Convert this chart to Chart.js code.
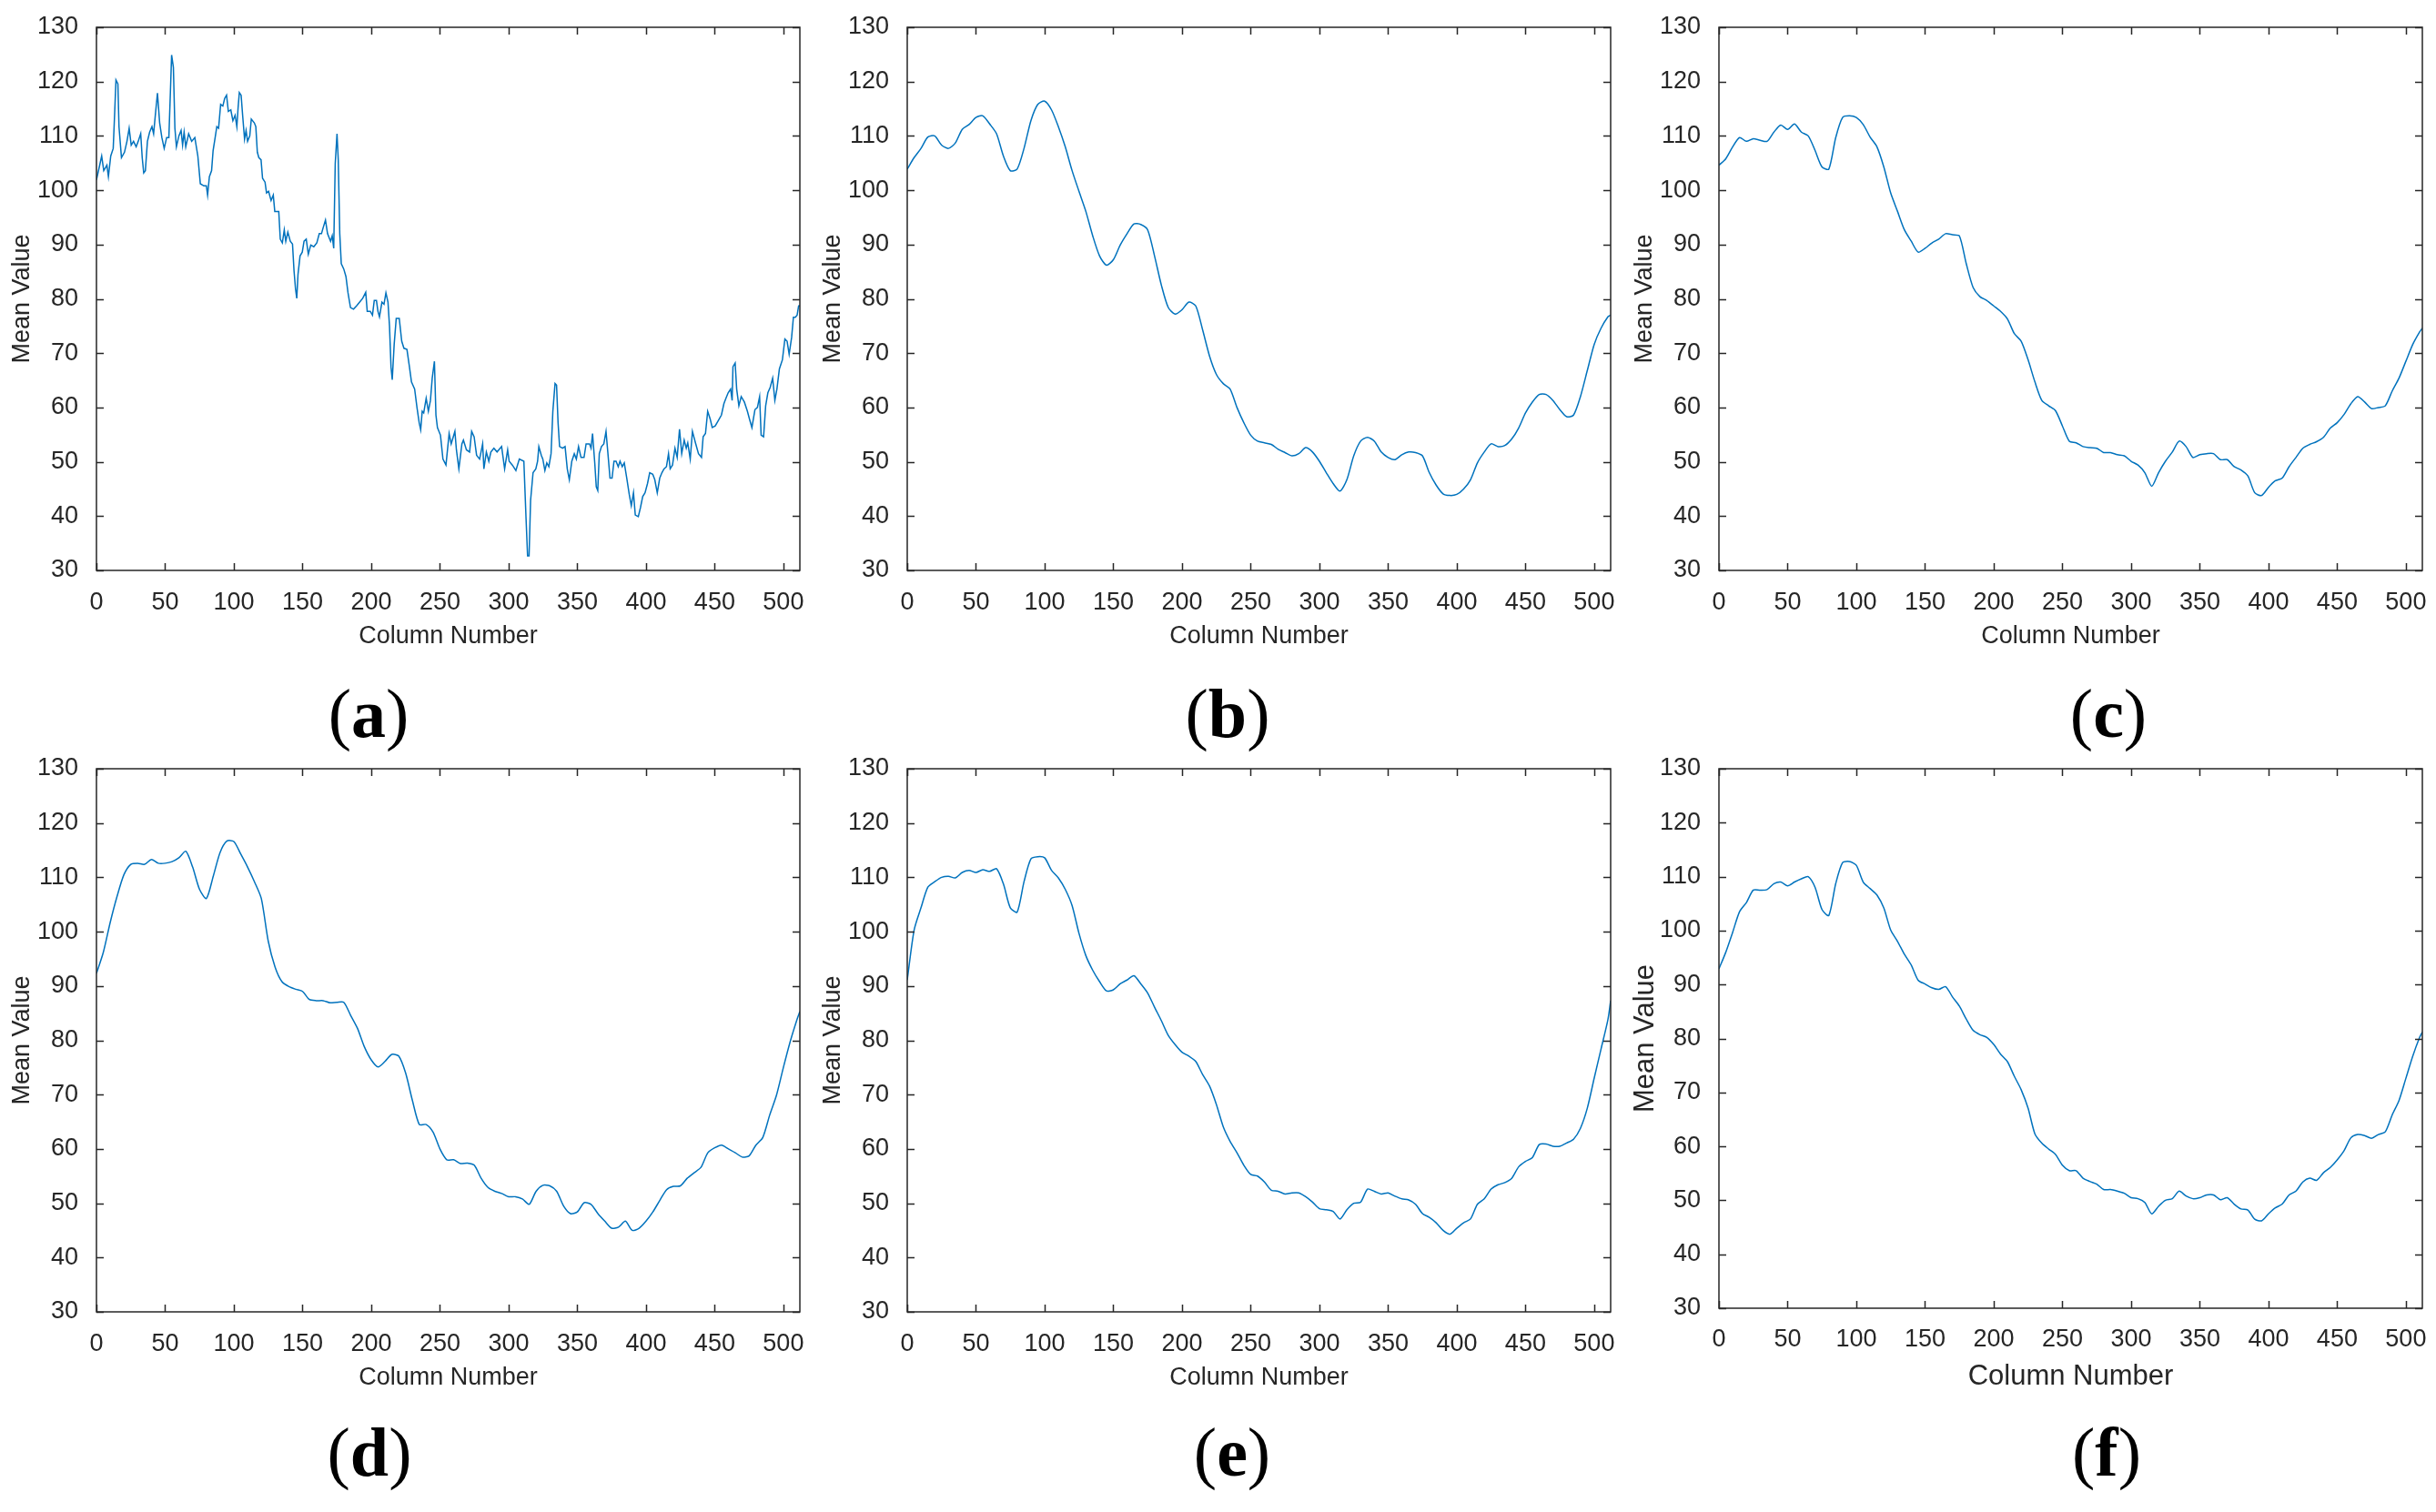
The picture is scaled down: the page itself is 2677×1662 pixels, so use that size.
<!DOCTYPE html>
<html>
<head>
<meta charset="utf-8">
<script src="https://cdn.jsdelivr.net/npm/chart.js@4.4.1/dist/chart.umd.min.js"></script>
<style>
    body { margin: 0; background: #fff; }
    #page { position: relative; width: 2677px; height: 1662px; overflow: hidden; }
    .panel { position: absolute; }
    .tag {
        position: absolute;
        font-family: "Liberation Serif", "DejaVu Serif", serif;
        font-size: 76px;
        line-height: 1;
        color: #000;
        transform: translate(-50%, -50%);
        white-space: nowrap;
    }
    .tag b { font-weight: bold; }
</style>
</head>
<body>
<div id="page">
    <div class="panel" id="pa"><canvas id="chartA"></canvas></div>
    <div class="panel" id="pb"><canvas id="chartB"></canvas></div>
    <div class="panel" id="pc"><canvas id="chartC"></canvas></div>
    <div class="panel" id="pd"><canvas id="chartD"></canvas></div>
    <div class="panel" id="pe"><canvas id="chartE"></canvas></div>
    <div class="panel" id="pf"><canvas id="chartF"></canvas></div>

    <div class="tag" style="left:405px; top:784px;">(<b>a</b>)</div>
    <div class="tag" style="left:1349px; top:784px;">(<b>b</b>)</div>
    <div class="tag" style="left:2317px; top:784px;">(<b>c</b>)</div>
    <div class="tag" style="left:406px; top:1596px;">(<b>d</b>)</div>
    <div class="tag" style="left:1354px; top:1596px;">(<b>e</b>)</div>
    <div class="tag" style="left:2315px; top:1596px;">(<b>f</b>)</div>
</div>

<script>
// ---- data ----

// (a) raw column means, sampled where the trace changes
var colA = [
    0,3.8,5.3,7.6,8.7,10.4,12.2,13.3,14.2,15.6,
    16.4,18.2,20.4,22.2,23.8,25.3,27,28.9,30.4,32.2,
    33.3,34.4,35.6,37.1,38.7,40.4,41.6,42.7,44.4,46,
    47.6,49.3,51.1,52.7,53.8,54.7,56,57.1,58.2,60,
    61.6,62.7,63.8,65,67.1,69.3,71.6,73.8,75.6,78.2,
    80,80.9,82.2,83.8,84.9,86.4,87.6,88.9,90.4,92,
    93.3,94.7,96,97.8,99.3,100.9,102.2,103.1,104,105.3,
    106.4,107.8,108.9,110,111.6,112.7,114.9,116,117.1,118.2,
    119.8,120.9,122.7,123.8,125.3,127.1,128.7,129.8,132.7,133.8,
    135.3,136.7,137.8,139.3,141.1,142.7,143.8,144.9,145.8,146.7,
    148.2,149.8,151.1,152.7,154.2,156,158.2,160.4,162.2,163.8,
    164.9,166.7,168.2,170.4,171.6,172.7,173.8,175.1,176,177.1,
    178.2,180,181.6,183.1,184.9,187.1,189.3,191.6,193.8,196,
    197.1,199.3,200.9,202.2,203.8,204.9,206,207.8,209.3,210.7,
    212.2,213.3,214.4,215.3,216.7,218.2,220.4,222.2,223.8,226,
    227.8,229.3,231.6,233.3,234.9,236,237.1,238.2,240,241.6,
    243.1,244.4,246,247.1,248.2,250.4,252.2,254.4,256.7,258.2,
    260.9,262,263.8,266,267.1,269.3,271.6,273.1,274.9,276.7,
    278.9,281.1,282,283.8,285.6,287.1,289.3,291.6,294.9,297.1,
    299.3,300.4,302.7,305.3,307.8,311.1,312.7,313.8,314.9,316,
    317.8,319.8,321.1,322,323.8,324.9,326.4,327.8,329.3,330.9,
    332.2,333.8,334.9,336,337.1,339.3,341.1,342.7,344.2,346,
    347.8,349.3,350.9,352.7,354.9,356.4,358.9,360,361.1,362.7,
    363.8,364.9,366,367.6,369.3,370.9,372.2,373.8,375.3,376.7,
    378.2,379.8,381.1,382.7,384.2,386,387.8,389.3,390.9,392.2,
    394.4,396,397.6,399.3,401.1,402.7,404.9,406.4,408.2,410,
    411.6,413.1,414.9,416.4,417.6,419.3,421.1,422.7,424.4,426,
    427.8,429.3,430.4,432.2,433.8,436,438.2,440.4,441.6,443.3,
    444.9,446.7,448.2,450.4,452.7,454.9,456.7,458.2,459.8,461.6,
    462.7,463.3,464.9,466,467.6,469.3,471.6,473.8,475.3,477.1,
    479.3,481.1,482.7,483.8,485.6,487.1,488.7,490.4,492.2,493.8,
    495.3,497.1,499.3,501.1,502.7,504.2,506,507.3,508.7,510,
    511.1,512
];
var meanA = [
    101.9,106.3,103.6,104.6,102.5,106.3,107.7,114.5,120.3,119.6,
    111.7,106,107,109,111.4,108.3,109,108,109,110.4,
    106,103.2,103.6,109,110.7,111.7,110.4,113.4,117.9,112.4,
    109.7,107.7,109.7,109.7,117.9,124.9,122.6,111.4,108,110,
    111,108.3,110.7,108,110.4,109,109.7,106.3,101.2,100.8,
    100.8,99.1,102.5,103.6,107.3,109.7,111.7,111.4,115.8,115.5,
    116.9,117.5,114.5,114.8,112.8,113.8,111.7,115.2,118,117.5,
    113.8,109.4,111,109,110,113.1,112.4,111.7,107,106,
    105.6,102.2,101.5,99.5,99.8,98.1,99.1,96.1,96.1,91,
    90.3,92.7,90.6,92.3,90.6,90.1,85.2,81.8,80.1,84.5,
    87.9,88.6,90.6,91,88.2,89.9,89.6,90.3,92,92,
    93,94.5,92,90.6,91.6,89.3,104.9,110.4,105.6,92,
    86.5,85.5,84.1,81.1,78.4,78.1,78.7,79.4,80.1,81.2,
    77.7,77.7,77,79.7,79.7,77.7,76.7,79.4,79,81.1,
    79.4,75,67.5,65.1,71.6,76.4,76.4,72.2,70.9,70.7,
    67.5,64.7,63.4,60,57.2,55.9,59.3,59,61.7,59.3,
    61.3,65.4,68.5,58.6,56.3,54.9,50.5,49.4,55.2,53.3,
    55.6,52.2,48.7,53.3,54,52.2,51.8,55.6,54.6,51.2,
    50.5,53.3,48.7,51.8,50.1,51.8,52.5,51.8,52.8,48.7,
    52.2,50.1,49.4,48.4,50.5,50.1,39.5,32.7,32.7,42.9,
    48,48.7,50.1,52.8,51.2,50.5,48.4,49.8,49.1,51.5,
    59.3,64.4,64.1,57.2,52.8,52.5,52.8,48.7,46.7,50.1,
    51.5,50.5,52.8,50.8,50.8,53.3,53.3,52.5,55.2,49.8,
    45.4,44.7,51.5,52.8,53.3,55.6,51.8,47,47,50.1,
    50.1,49.1,50.1,49.1,49.8,47,44,41.9,44.3,40.2,
    39.9,41.6,43.6,44.3,46,48,47.7,46.7,44.3,47,
    48,48.7,49.1,51.5,48.7,49.4,52.5,50.8,56,51.5,
    54,52.5,53.5,50.5,55.6,53.5,51.5,50.8,54.6,55.2,
    59.3,57.9,56.3,56.6,57.6,58.6,60.7,61.7,62.7,63.4,
    61.3,67.5,68.2,63.4,60.3,62,61,59.3,57.9,56.3,
    59.6,60,62,54.9,54.6,60.3,62.7,63.7,65.4,61.3,
    63.4,67.1,68.8,72.6,72.2,69.8,72.9,76.6,76.6,77,
    78.7,78.7
];

// (b)-(f) filtered results, read every 5 columns
var cols = [
    0,5,10,15,20,25,30,35,40,45,
    50,55,60,65,70,75,80,85,90,95,
    100,105,110,115,120,125,130,135,140,145,
    150,155,160,165,170,175,180,185,190,195,
    200,205,210,215,220,225,230,235,240,245,
    250,255,260,265,270,275,280,285,290,295,
    300,305,310,315,320,325,330,335,340,345,
    350,355,360,365,370,375,380,385,390,395,
    400,405,410,415,420,425,430,435,440,445,
    450,455,460,465,470,475,480,485,490,495,
    500,505,510,512
];
var meanB = [
    103.9,106,107.7,109.8,110,108.3,107.7,108.7,111.2,112.1,
    113.4,113.7,112.2,110.4,106.3,103.6,103.9,107.7,112.8,115.8,
    116.4,114.8,111.7,108,103.6,99.8,96.1,91.6,87.9,86.2,
    87.2,89.9,92,93.8,93.7,92.7,87.9,82.5,78.4,77.2,
    78,79.4,78.7,74.3,69.5,66.1,64.4,63.4,60,57.2,
    54.9,53.8,53.5,53.2,52.3,51.7,51.1,51.5,52.6,51.8,
    50.1,48,46,44.6,46.7,51.1,53.8,54.5,53.8,51.8,
    50.8,50.4,51.3,51.8,51.7,51.1,48,45.7,44.1,43.8,
    44,45,46.7,49.8,51.8,53.3,52.8,53,54.2,56.2,
    59,61,62.4,62.4,61.3,59.6,58.3,58.6,62,66.8,
    71.6,74.6,76.7,77
];
var meanC = [
    104.6,105.8,108,109.7,109,109.5,109.2,109,110.7,112,
    111.2,112.2,110.7,110,107.3,104.3,103.9,109.7,113.4,113.7,
    113.4,112.1,109.8,108,104.3,99.5,96.1,92.7,90.6,88.6,
    89.3,90.3,91,92,91.8,91.6,86.5,82.1,80.4,79.7,
    78.7,77.7,76.3,73.6,72.2,68.8,64.7,61.3,60.3,59.4,
    56.6,53.8,53.5,52.8,52.6,52.5,51.7,51.7,51.3,51.1,
    50.1,49.4,48,45.5,48,50.1,51.8,53.8,52.8,50.8,
    51.3,51.5,51.5,50.4,50.4,49.1,48.5,47.4,44.3,43.8,
    45.3,46.5,47,49.1,50.8,52.5,53.2,53.7,54.5,56.2,
    57.2,58.7,60.7,62,61,59.8,60,60.3,63,65.4,
    68.5,71.6,73.9,74.6
];
var meanD = [
    92.3,96.2,101.7,106.5,110.5,112.4,112.6,112.4,113.3,112.6,
    112.6,112.9,113.6,114.8,111.9,107.8,106.1,110.2,114.6,116.7,
    116.6,114.3,111.9,109.2,106.1,98.3,93.5,90.8,89.9,89.4,
    89,87.5,87.3,87.3,86.9,87,87,84.6,82.2,78.8,
    76.4,75.1,76.1,77.4,77.1,74,68.9,64.5,64.5,63.1,
    60,58,58,57.3,57.4,57,54.6,52.9,52.2,51.8,
    51.2,51.2,50.8,49.8,52.2,53.3,53.2,52.2,49.5,48.1,
    48.4,50.1,49.8,48.1,46.7,45.4,45.6,46.7,45,45.4,
    46.7,48.4,50.5,52.5,53.1,53.2,54.6,55.6,56.6,59.3,
    60.2,60.7,60,59.3,58.5,58.7,60.7,62.1,66.2,69.9,
    75,79.8,83.9,85.3
];
var meanE = [
    91.1,100.3,104.4,108.2,109.2,110,110.2,109.9,110.9,111.3,
    110.9,111.4,111.1,111.6,108.8,104.4,103.6,109.2,113.4,113.8,
    113.6,111.3,109.9,107.8,104.8,99.7,95.6,92.9,90.8,89.1,
    89.3,90.4,91.1,91.9,90.4,88.7,86.1,83.6,80.9,79.2,
    77.8,77.1,76.1,73.7,71.6,68.2,64.1,61.4,59.3,57,
    55.3,55,53.9,52.4,52.2,51.7,51.9,51.9,51.2,50.2,
    49,48.8,48.5,47.1,48.8,50,50.2,52.6,52.2,51.7,
    51.9,51.3,50.8,50.6,49.8,48.1,47.4,46.4,45,44.3,
    45.4,46.4,47.1,49.8,50.8,52.6,53.4,53.8,54.6,56.7,
    57.7,58.4,60.8,60.9,60.5,60.5,61.1,61.8,63.8,67.5,
    73,78.4,83.8,87.3
];
var meanF = [
    92.9,96,99.7,103.5,105.2,107.5,107.5,107.6,108.7,109,
    108.3,109,109.6,110,108,103.9,102.8,108.7,112.6,112.8,
    112.1,109,107.8,106.6,104.2,100.1,98,95.6,93.6,90.8,
    90.1,89.4,89.1,89.6,87.7,86,83.6,81.5,80.7,80.2,
    78.9,77.1,75.7,73,70.5,67.1,62.3,60.6,59.5,58.5,
    56.5,55.5,55.5,54.1,53.5,53,52,52,51.7,51.3,
    50.5,50.3,49.6,47.5,48.9,50,50.3,51.7,50.8,50.3,
    50.5,51,51,50.1,50.5,49.3,48.4,48.2,46.5,46.2,
    47.5,48.6,49.3,51,51.7,53.4,54.1,53.7,55.1,56.1,
    57.5,59.2,61.6,62.2,62,61.5,62.2,62.7,65.8,68.5,
    72.6,76.7,80.2,81.2
];

var xTitle = 'Column Number';
var yTitle = 'Mean Value';

// ---- drawing ----
var INK = '#262626';
var LINE = '#0072BD';
var SANS = '"Liberation Sans", Arial, Helvetica, sans-serif';

// MATLAB style box with inward ticks on all four sides
var boxPlugin = {
    id: 'matlabBox',
    afterDraw: function (chart) {
        var ctx = chart.ctx;
        var a = chart.chartArea;
        var xs = chart.scales.x;
        var ys = chart.scales.y;
        var tl = 8;
        ctx.save();
        ctx.strokeStyle = INK;
        ctx.lineWidth = 1.5;
        ctx.strokeRect(a.left, a.top, a.right - a.left, a.bottom - a.top);
        ctx.beginPath();
        xs.ticks.forEach(function (t) {
            var px = Math.round(xs.getPixelForValue(t.value)) + 0.5;
            ctx.moveTo(px, a.bottom); ctx.lineTo(px, a.bottom - tl);
            ctx.moveTo(px, a.top); ctx.lineTo(px, a.top + tl);
        });
        ys.ticks.forEach(function (t) {
            var py = Math.round(ys.getPixelForValue(t.value)) + 0.5;
            ctx.moveTo(a.left, py); ctx.lineTo(a.left + tl, py);
            ctx.moveTo(a.right, py); ctx.lineTo(a.right - tl, py);
        });
        ctx.stroke();
        ctx.restore();
    }
};

function makePanel(holderId, canvasId, xs, ys, p) {
    var holder = document.getElementById(holderId);
    var w = 106 + 773 + 12;
    var h = 20 + p.plotH + p.xAxisH;
    holder.style.left = (p.left - 106) + 'px';
    holder.style.top = (p.top - 20) + 'px';

    var cv = document.getElementById(canvasId);
    cv.width = w;
    cv.height = h;
    cv.style.width = w + 'px';
    cv.style.height = h + 'px';

    var points = xs.map(function (c, i) { return { x: c, y: ys[i] }; });

    return new Chart(cv, {
        type: 'line',
        data: {
            datasets: [{
                data: points,
                borderColor: LINE,
                borderWidth: 1.5,
                pointRadius: 0,
                fill: false,
                tension: p.tension
            }]
        },
        plugins: [boxPlugin],
        options: {
            responsive: false,
            animation: false,
            devicePixelRatio: 1,
            layout: { padding: { top: 20, right: 12, bottom: 0, left: 0 } },
            plugins: {
                legend: { display: false },
                tooltip: { enabled: false }
            },
            scales: {
                x: {
                    type: 'linear',
                    min: 0,
                    max: 512,
                    grid: { display: false },
                    border: { display: false },
                    ticks: {
                        stepSize: 50,
                        includeBounds: false,
                        autoSkip: false,
                        maxRotation: 0,
                        padding: p.xTickPad,
                        color: INK,
                        font: { family: SANS, size: 27 }
                    },
                    title: {
                        display: true,
                        text: xTitle,
                        color: INK,
                        font: { family: SANS, size: p.titleSize },
                        padding: { top: 0, bottom: p.xTitlePad }
                    },
                    afterFit: function (s) {
                        s.height = p.xAxisH;
                        s.paddingLeft = 0;
                        s.paddingRight = 0;
                    }
                },
                y: {
                    min: 30,
                    max: 130,
                    grid: { display: false },
                    border: { display: false },
                    ticks: {
                        stepSize: 10,
                        padding: 12,
                        color: INK,
                        font: { family: SANS, size: 27 }
                    },
                    title: {
                        display: true,
                        text: yTitle,
                        color: INK,
                        font: { family: SANS, size: p.titleSize },
                        padding: { top: p.yTitlePad, bottom: 0 }
                    },
                    afterFit: function (s) {
                        s.width = 106;
                        s.paddingTop = 0;
                        s.paddingBottom = 0;
                    }
                }
            }
        }
    });
}

var base = { plotH: 597, xAxisH: 90, xTickPad: 11, xTitlePad: 1, yTitlePad: 8, titleSize: 27, tension: 0.25 };
function cfg(left, top, extra) {
    var o = {};
    for (var k in base) o[k] = base[k];
    o.left = left;
    o.top = top;
    for (var j in extra) o[j] = extra[j];
    return o;
}

makePanel('pa', 'chartA', colA, meanA, cfg(106, 30, { tension: 0 }));
makePanel('pb', 'chartB', cols, meanB, cfg(997, 30, {}));
makePanel('pc', 'chartC', cols, meanC, cfg(1889, 30, {}));
makePanel('pd', 'chartD', cols, meanD, cfg(106, 845, {}));
makePanel('pe', 'chartE', cols, meanE, cfg(997, 845, {}));
makePanel('pf', 'chartF', cols, meanF, cfg(1889, 845, { plotH: 593, xAxisH: 94, xTickPad: 10, xTitlePad: 0, yTitlePad: 7, titleSize: 31 }));
</script>
</body>
</html>
